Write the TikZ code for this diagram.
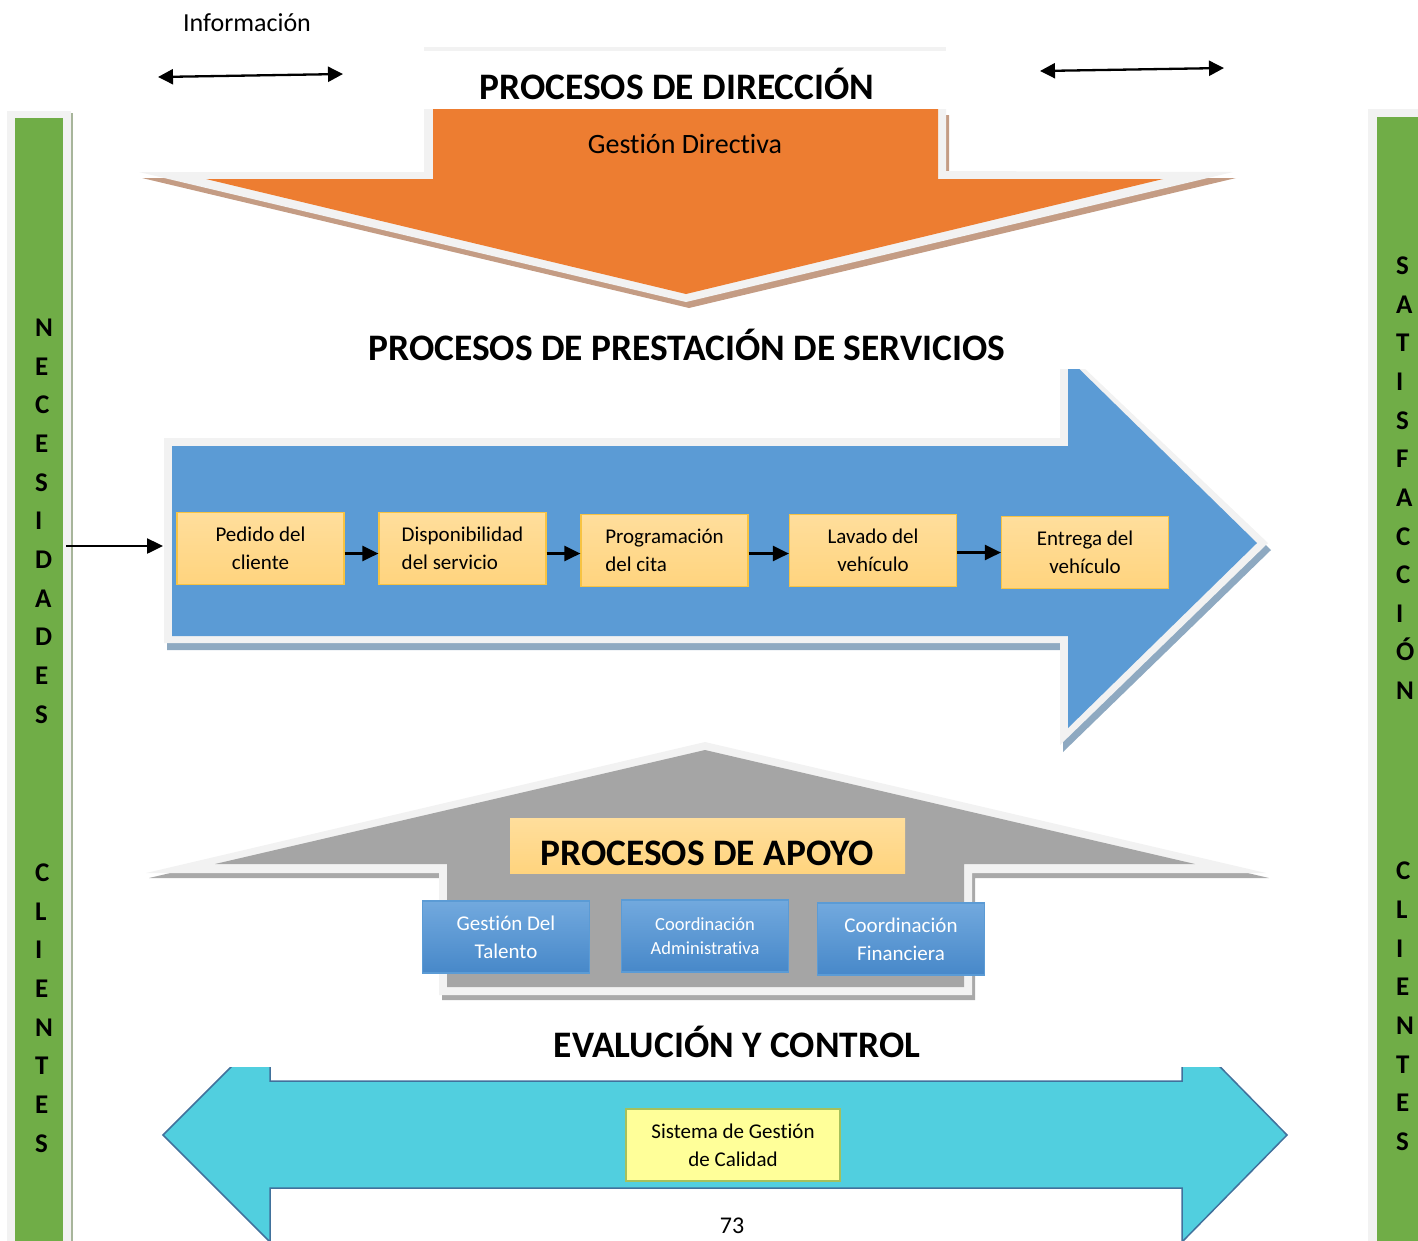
\documentclass[tikz,border=0pt]{standalone}
\usepackage{fontspec}
\setmainfont{Carlito}[Ligatures={NoCommon}]
\usetikzlibrary{arrows.meta}
\definecolor{cOrange}{HTML}{ED7D31}
\definecolor{cLight}{HTML}{F2F2F2}
\definecolor{cBrown}{HTML}{C49C84}
\definecolor{cBlue}{HTML}{5B9BD5}
\definecolor{cBlueSh}{HTML}{8EA9C1}
\definecolor{cGray}{HTML}{A5A5A5}
\definecolor{cGraySh}{HTML}{A9A9A9}
\definecolor{cGreen}{HTML}{70AD47}
\definecolor{cGreenSh}{HTML}{A7B59A}
\definecolor{cCyan}{HTML}{51CFDF}
\definecolor{cCyanB}{HTML}{41719C}
\definecolor{cYelT}{HTML}{FFDE9C}
\definecolor{cYelB}{HTML}{FFD47E}
\definecolor{cYelD}{HTML}{F7C342}
\definecolor{cBoxT}{HTML}{72A9DE}
\definecolor{cBoxB}{HTML}{4788C9}
\definecolor{cBoxD}{HTML}{5B9BD5}
\definecolor{cPale}{HTML}{FFFF99}
\definecolor{cOlive}{HTML}{A5C05C}
\begin{document}
\begin{tikzpicture}[x=1pt,y=-1pt,
  title/.style={font=\fontsize{37.4}{44}\selectfont\bfseries, inner sep=0pt, anchor=base},
  plain/.style={inner sep=0pt, anchor=base},
  ybox/.style={draw=cYelD, line width=1.2pt, top color=cYelT, bottom color=cYelB,
    minimum width=167pt, minimum height=72pt, inner sep=0pt,
    font=\fontsize{21}{28}\selectfont},
  bbox/.style={draw=cBoxD, line width=1.2pt, top color=cBoxT, bottom color=cBoxB,
    minimum width=167pt, minimum height=72pt, inner sep=0pt, text=white, align=center},
  flow/.style={-{Triangle[length=16pt,width=15pt]}, line width=2.5pt, black},
  info/.style={{Triangle[length=15pt,width=15pt]}-{Triangle[length=15pt,width=15pt]}, line width=2.3pt, black},
  gl/.style={font=\fontsize{27}{30}\selectfont\bfseries, inner sep=0pt, anchor=base west}
]
\useasboundingbox (0,0) rectangle (1418,1240);

% ---------- green side bars ----------
\fill[cGreenSh] (71,113) rectangle (73,1260);
\fill[cLight] (7,111) rectangle (71,1260);
\fill[cGreen] (15,118) rectangle (63,1260);
\fill[cLight] (1368,109) rectangle (1430,1260);
\fill[cGreen] (1377,117) rectangle (1430,1260);

\foreach \ch/\yy in {N/327,E/366,C/404,E/443,S/482,I/520,D/559,A/598,D/636,E/675,S/714,
                     C/872,L/911,I/949,E/988,N/1027,T/1065,E/1104,S/1143}
  \node[gl] (nl-\yy) at (35,{\yy+9}) {\ch};
\foreach \ch/\yy in {S/265,A/304,T/342,I/381,S/420,F/458,A/497,C/536,C/574,I/613,Ó/651,N/690,
                     C/870,L/909,I/948,E/986,N/1025,T/1064,E/1102,S/1141}
  \node[gl] (nr-\yy) at (1396,{\yy+9}) {\ch};

% ---------- Información ----------
\node[plain, font=\fontsize{26}{30}\selectfont] (info) at (247,31) {Información};
\coordinate (ia1) at (158,77);
\coordinate (ib1) at (343,74);
\coordinate (ia2) at (1040,71);
\coordinate (ib2) at (1224,68);
\draw[info] (ia1) -- (ib1);
\draw[info] (ia2) -- (ib2);

% ---------- Procesos de dirección (orange down arrow) ----------
\fill[cLight] (424,47) rectangle (946,51);
\fill[cBrown] (427,115) -- (949,115) -- (949,178) -- (1236,178) -- (689,308) -- (142,178) -- (427,178) -- cycle;
\fill[cLight] (424,109) -- (946,109) -- (946,171) -- (1233,172) -- (686,302) -- (139,172) -- (424,172) -- cycle;
\fill[cOrange] (433,109) -- (938,109) -- (938,179) -- (1163,179) -- (686,294) -- (206,179) -- (433,179) -- cycle;
\node[title] (dir) at (677,99) {PROCESOS DE DIRECCIÓN};
\node[plain, font=\fontsize{28}{32}\selectfont] (gd) at (685,153) {Gestión Directiva};

% ---------- Procesos de prestación (blue right arrow) ----------
\node[title] (pres) at (687,360) {PROCESOS DE PRESTACIÓN DE SERVICIOS};
\begin{scope}
  \clip (0,369) rectangle (1418,800);
  \fill[cBlueSh] (167,445) -- (1063,445) -- (1063,352) -- (1271,550) -- (1063,752) -- (1063,650) -- (167,650) -- cycle;
  \fill[cLight] (164,438) -- (1060,438) -- (1060,345) -- (1268,543) -- (1060,745) -- (1060,643) -- (164,643) -- cycle;
  \fill[cBlue] (172,446) -- (1068,446) -- (1068,358) -- (1257,543) -- (1068,728) -- (1068,636) -- (172,636) -- cycle;
\end{scope}

\node[ybox, align=center] (p1) at (260.5,548.5) {Pedido del\\cliente};
\node[ybox, align=left]   (p2) at (462.5,548.5) {Disponibilidad\\del servicio};
\node[ybox, align=left]   (p3) at (664.5,550.5) {Programación\\del cita};
\node[ybox, align=center] (p4) at (873,550.5) {Lavado del\\vehículo};
\node[ybox, align=center] (p5) at (1085,552.5) {Entrega del\\vehículo};

\draw[flow] ([yshift=-5pt]p1.east) -- ([yshift=-5pt]p1.east -| p2.west);
\draw[flow] ([yshift=-5pt]p2.east) -- ([yshift=-5pt]p2.east -| p3.west);
\draw[flow] ([yshift=-3pt]p3.east) -- ([yshift=-3pt]p3.east -| p4.west);
\draw[flow] ([yshift=-2pt]p4.east) -- ([yshift=-2pt]p4.east -| p5.west);

\coordinate (nec) at (66,546);
\coordinate (bl) at (163,546);
\draw[flow] (nec) -- (bl);

% ---------- Procesos de apoyo (gray up arrow) ----------
\fill[cGraySh] (708,747) -- (1269,878) -- (975,878) -- (975,1000) -- (442,1000) -- (442,878) -- (149,878) -- cycle;
\fill[cLight] (705,742) -- (1266,873) -- (972,873) -- (972,995) -- (439,995) -- (439,873) -- (146,873) -- cycle;
\fill[cGray] (705,750) -- (1195,864) -- (964,864) -- (964,987) -- (447,987) -- (447,864) -- (215,864) -- cycle;

\node[top color=cYelT, bottom color=cYelB, minimum width=395pt, minimum height=55pt, inner sep=0pt] (apbox) at (707.5,845.5) {};
\node[title] (apoyo) at (707,865) {PROCESOS DE APOYO};

\node[bbox, font=\fontsize{21}{28}\selectfont] (a1) at (506,937) {Gestión Del\\Talento};
\node[bbox, font=\fontsize{18.5}{24}\selectfont] (a2) at (705,936) {Coordinación\\Administrativa};
\node[bbox, font=\fontsize{21}{28}\selectfont] (a3) at (901,939) {Coordinación\\Financiera};

% ---------- Evaluación y control (cyan double arrow) ----------
\node[title] (eval) at (737,1057) {EVALUCIÓN Y CONTROL};
\begin{scope}
  \clip (0,1067) rectangle (1418,1300);
  \draw[cCyanB, line width=1.5pt, fill=cCyan, line join=miter]
    (163,1135) -- (270,1028) -- (270,1081) -- (1182,1081) -- (1182,1028) -- (1287,1135)
    -- (1182,1242) -- (1182,1188) -- (270,1188) -- (270,1242) -- cycle;
\end{scope}
\node[draw=cOlive, line width=1.3pt, fill=cPale, minimum width=214pt, minimum height=72pt,
      inner sep=0pt, align=center, font=\fontsize{21}{28}\selectfont] (sgc) at (733,1145) {Sistema de Gestión\\de Calidad};

\node[plain, font=\fontsize{24}{30}\selectfont] (pg) at (732,1233) {73};
\end{tikzpicture}
\end{document}
